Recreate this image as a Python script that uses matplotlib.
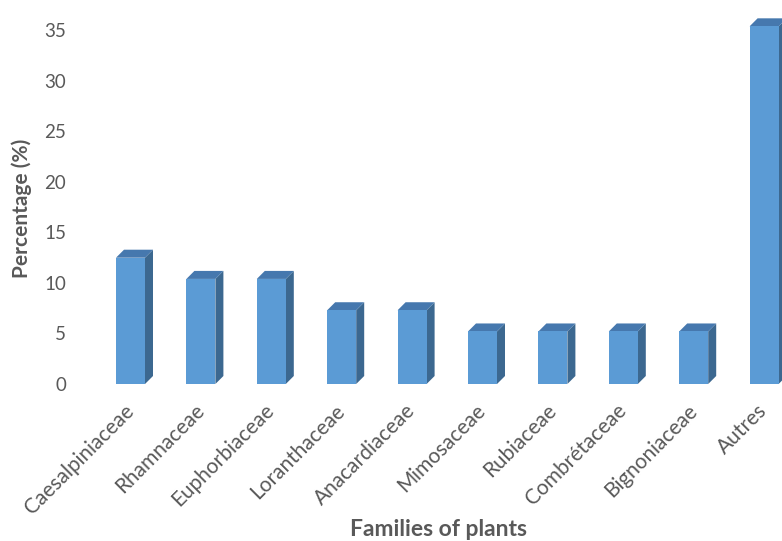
import matplotlib
matplotlib.use("Agg")
import matplotlib.pyplot as plt
from matplotlib.patches import Polygon
import numpy as np

families = ["Caesalpiniaceae", "Rhamnaceae", "Euphorbiaceae", "Loranthaceae",
            "Anacardiaceae", "Mimosaceae", "Rubiaceae", "Combrétaceae",
            "Bignoniaceae", "Autres"]
percentages = [12.5, 10.4, 10.4, 7.3, 7.3, 5.2, 5.2, 5.2, 5.2, 35.4]
yticks = [0, 5, 10, 15, 20, 25, 30, 35]

W, H = 782, 541
fig = plt.figure(figsize=(W / 100, H / 100), dpi=100)
plt.rcParams['font.family'] = ['Lato', 'DejaVu Sans']

# axes geometry in pixels
x0_px = 130.5
step_px = 70.4
left_px = x0_px - 0.5 * step_px
y0_px = 384.0
ppu = 126.3 / 12.5
top_px = y0_px - 35 * ppu
xmax = (W - x0_px) / step_px
ax = fig.add_axes([left_px / W, (H - y0_px) / H, (W - left_px) / W, (y0_px - top_px) / H])
ax.set_xlim(-0.5, xmax)
ax.set_ylim(0, 35)

front = "#5B9BD5"
side = "#3C6890"
topc = "#4678AE"
width = 29 / step_px
dx = 8 / step_px
dy = 8 / ppu

x = np.arange(len(families))
for xi, v in zip(x, percentages):
    l, r = xi - width / 2, xi + width / 2
    ax.add_patch(Polygon([[r, 0], [r + dx, dy], [r + dx, v + dy], [r, v]],
                         closed=True, facecolor=side, edgecolor='none', clip_on=False))
    ax.add_patch(Polygon([[l, v], [r, v], [r + dx, v + dy], [l + dx, v + dy]],
                         closed=True, facecolor=topc, edgecolor='none', clip_on=False))
ax.bar(x, percentages, width=width, color=front, edgecolor='none', clip_on=False, zorder=3)

for s in ax.spines.values():
    s.set_visible(False)
ax.set_yticks(yticks)
ax.set_yticklabels([str(t) for t in yticks])
ax.tick_params(axis='y', length=0, pad=21, labelsize=13.5, labelcolor="#595959")
ax.set_xticks(x)
ax.set_xticklabels(families, rotation=45, ha='right', va='center', rotation_mode='anchor')
ax.tick_params(axis='x', length=0, pad=17, labelsize=15, labelcolor="#595959")

fig.text(22 / W, 1 - 208 / H, "Percentage (%)", rotation=90, ha='center', va='center',
         fontsize=15, fontweight='bold', color="#595959")
fig.text(439 / W, 1 - 530 / H, "Families of plants", ha='center', va='center',
         fontsize=16.5, fontweight='bold', color="#595959")

fig.savefig("out.png", dpi=100)
